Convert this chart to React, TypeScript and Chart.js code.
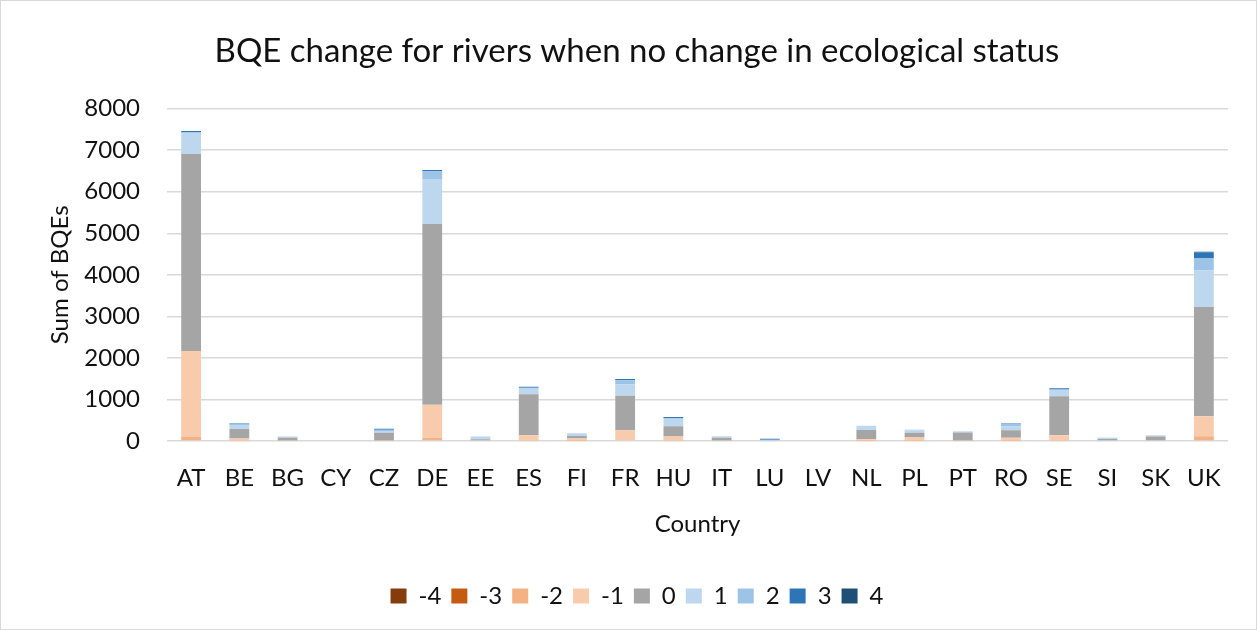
import React, { useEffect, useRef } from "react";
import { Chart, registerables } from "chart.js";

Chart.register(...registerables);

const countries = ["AT", "BE", "BG", "CY", "CZ", "DE", "EE", "ES", "FI", "FR", "HU", "IT", "LU", "LV", "NL", "PL", "PT", "RO", "SE", "SI", "SK", "UK"];

const seriesLabels = ["-4", "-3", "-2", "-1", "0", "1", "2", "3", "4"];
const seriesColors = ["#843C0C", "#C55A11", "#F4B183", "#F8CBAD", "#A5A5A5", "#BDD7EE", "#9DC3E6", "#2E75B6", "#1F4E79"];

const valuesM4 = [0, 0, 0, 0, 0, 0, 0, 0, 0, 0, 0, 0, 0, 0, 0, 0, 0, 0, 0, 0, 0, 0];
const valuesM3 = [0, 0, 0, 0, 0, 0, 0, 0, 0, 0, 0, 0, 0, 0, 0, 0, 0, 0, 0, 0, 0, 0];
const valuesM2 = [110, 10, 0, 0, 0, 80, 0, 10, 5, 20, 10, 0, 0, 0, 5, 5, 0, 5, 10, 0, 0, 115];
const valuesM1 = [2055, 50, 10, 0, 10, 790, 0, 128, 55, 240, 100, 10, 0, 0, 40, 80, 5, 75, 130, 0, 0, 480];
const values0 = [4745, 230, 70, 0, 190, 4350, 40, 985, 60, 830, 245, 70, 20, 0, 220, 115, 200, 180, 940, 50, 110, 2630];
const valuesP1 = [505, 100, 20, 0, 40, 1085, 60, 150, 50, 270, 180, 30, 0, 0, 100, 50, 25, 90, 150, 20, 25, 880];
const valuesP2 = [15, 10, 10, 0, 30, 185, 10, 10, 10, 100, 15, 5, 10, 0, 5, 20, 5, 60, 10, 10, 5, 300];
const valuesP3 = [30, 20, 0, 0, 25, 30, 0, 25, 0, 30, 25, 0, 25, 0, 0, 0, 0, 10, 30, 0, 0, 140];
const valuesP4 = [0, 0, 0, 0, 0, 0, 0, 0, 0, 0, 0, 0, 0, 0, 0, 0, 0, 0, 0, 0, 0, 10];

const seriesValues = [valuesM4, valuesM3, valuesM2, valuesM1, values0, valuesP1, valuesP2, valuesP3, valuesP4];

const yTickStep = 1000;
const yMax = 8000;

const FONT = "Lato, 'Open Sans', sans-serif";
const TEXT = "#111111";

const borderPlugin = {
  id: "outerBorder",
  afterDraw(chart: any) {
    const ctx = chart.ctx;
    ctx.save();
    ctx.strokeStyle = "#D9D9D9";
    ctx.lineWidth = 1;
    ctx.strokeRect(0.5, 0.5, chart.width - 1, chart.height - 1);
    ctx.restore();
  },
};

export default function App() {
  const ref = useRef<HTMLCanvasElement | null>(null);

  useEffect(() => {
    document.body.style.margin = "0";
    const canvas = ref.current;
    if (!canvas) return;
    const chart = new Chart(canvas, {
      type: "bar",
      data: {
        labels: countries,
        datasets: seriesLabels.map((label, i) => ({
          label,
          data: seriesValues[i],
          backgroundColor: seriesColors[i],
          borderWidth: 0,
          barPercentage: 0.41,
          categoryPercentage: 1,
        })),
      },
      options: {
        animation: false,
        responsive: false,
        maintainAspectRatio: false,
        layout: { padding: { left: 46, right: 29, top: 0, bottom: 12 } },
        plugins: {
          title: {
            display: true,
            text: "BQE change for rivers when no change in ecological status",
            color: TEXT,
            font: { family: FONT, size: 33, weight: "normal" },
            padding: { top: 32, bottom: 37 },
          },
          legend: {
            position: "bottom",
            labels: {
              color: TEXT,
              font: { family: FONT, size: 24 },
              boxWidth: 16,
              boxHeight: 15,
              padding: 10,
            },
          },
          tooltip: { enabled: false },
        },
        scales: {
          x: {
            stacked: true,
            grid: { display: false },
            border: { display: false },
            ticks: { color: TEXT, font: { family: FONT, size: 24 }, padding: 15, maxRotation: 0 },
            title: {
              display: true,
              text: "Country",
              color: TEXT,
              font: { family: FONT, size: 24 },
              padding: { top: 6, bottom: 35 },
            },
            afterFit(scale: any) {
              const legendH = scale.chart.legend ? scale.chart.legend.height : 0;
              scale.height = 630 - 12 - legendH - 441;
            },
          },
          y: {
            stacked: true,
            min: 0,
            max: yMax,
            grid: { color: "#D9D9D9", lineWidth: 1.5, drawTicks: false },
            border: { display: false },
            ticks: {
              stepSize: yTickStep,
              color: TEXT,
              font: { family: FONT, size: 24 },
              padding: 27,
              callback: (v: any) => String(v),
            },
            title: {
              display: true,
              text: "Sum of BQEs",
              color: TEXT,
              font: { family: FONT, size: 24 },
              padding: 0,
            },
            afterFit(scale: any) {
              scale.width = 167 - 46;
            },
          },
        },
      },
      plugins: [borderPlugin],
    });
    return () => chart.destroy();
  }, []);

  return (
    <div style={{ width: 1257, height: 630 }}>
      <canvas ref={ref} width={1257} height={630} style={{ width: 1257, height: 630, display: "block" }} />
    </div>
  );
}
